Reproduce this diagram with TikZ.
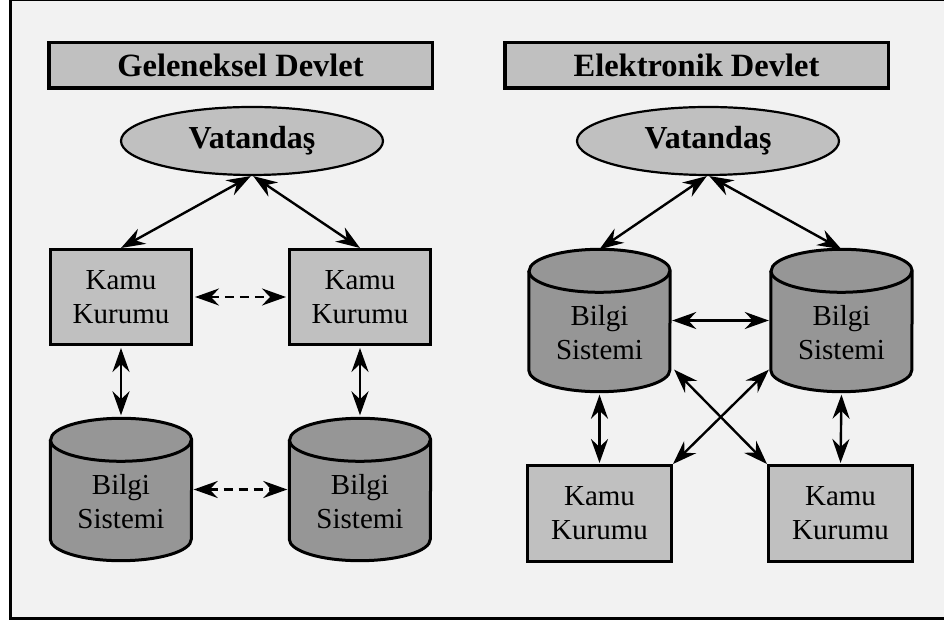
\documentclass[tikz,border=0pt]{standalone}
\usepackage{fontspec}
\setmainfont{Liberation Serif}
\usetikzlibrary{arrows.meta,shapes.geometric,calc,backgrounds}
\pgfdeclarelayer{frame}
\pgfsetlayers{frame,background,main}

\definecolor{pagebg}{HTML}{F2F2F2}
\definecolor{boxgray}{HTML}{C0C0C0}
\definecolor{cylgray}{HTML}{969696}

\tikzset{
  titlebox/.style={draw=black, line width=3.5pt, fill=boxgray, minimum width=383.5pt,
    minimum height=45.5pt, inner sep=0pt, font=\fontsize{32.5}{36}\selectfont\bfseries},
  citizen/.style={ellipse, draw=black, line width=2.2pt, fill=boxgray, minimum width=262pt,
    minimum height=68pt, inner sep=0pt, font=\fontsize{32}{36}\selectfont\bfseries},
  agency/.style={draw=black, line width=3pt, fill=boxgray, minimum width=141pt,
    minimum height=95pt, inner sep=0pt, align=center, font=\fontsize{29}{34}\selectfont},
  dbslot/.style={rectangle, draw=none, minimum width=141pt, minimum height=142pt, inner sep=0pt},
  dblabel/.style={align=center, inner sep=0pt, font=\fontsize{29}{34}\selectfont},
  dbbody/.style={draw=black, line width=3pt, fill=cylgray, line join=round},
  tip/.style={Stealth[length=24pt,width=17pt,inset=8pt]},
  link/.style={line width=2.4pt, {Stealth[length=24pt,width=17pt,inset=8pt]}-{Stealth[length=24pt,width=17pt,inset=8pt]}},
  weaklink/.style={link, dash pattern=on 9pt off 6pt}
}

\begin{document}
\begin{tikzpicture}[x=1pt,y=1pt]
\useasboundingbox (0,0) rectangle (944,623);

% page and outer frame
\begin{pgfonlayer}{frame}
  \fill[white] (0,0) rectangle (944,623);
  \draw[line width=3pt, fill=pagebg] (10,4.5) rectangle (960,623.5);
\end{pgfonlayer}

% ---------- Geleneksel Devlet ----------
\node[titlebox] (tL) at (240.5,557.5) {Geleneksel Devlet};
\node[citizen] (vL) at (252,482) {Vatandaş};
\node[agency] (kL1) at (121,326) {Kamu\\Kurumu};
\node[agency] (kL2) at (360,326) {Kamu\\Kurumu};
\node[dbslot] (cL1) at (121,133.5) {};
\node[dbslot] (cL2) at (360,133.5) {};
\node[dblabel] at ($(cL1.center)+(0,-12)$) {Bilgi\\Sistemi};
\node[dblabel] at ($(cL2.center)+(0,-12)$) {Bilgi\\Sistemi};

% ---------- Elektronik Devlet ----------
\node[titlebox] (tR) at (696.5,557.5) {Elektronik Devlet};
\node[citizen] (vR) at (708,482) {Vatandaş};
\node[dbslot] (cR1) at (599.5,302.5) {};
\node[dbslot] (cR2) at (841.5,302.5) {};
\node[dblabel] at ($(cR1.center)+(0,-12)$) {Bilgi\\Sistemi};
\node[dblabel] at ($(cR2.center)+(0,-12)$) {Bilgi\\Sistemi};
\node[agency, minimum width=144pt, minimum height=96pt] (kR1) at (599.5,109.5) {Kamu\\Kurumu};
\node[agency, minimum width=144pt, minimum height=96pt] (kR2) at (840.5,109.5) {Kamu\\Kurumu};

% cylinder bodies behind their labels
\begin{scope}[on background layer]
  \foreach \n in {cL1,cL2,cR1,cR2}{
    \draw[dbbody] ($(\n.north west)+(0,-21.5)$) -- ($(\n.south west)+(0,21.5)$)
      arc[start angle=180,end angle=360,x radius=70.5,y radius=21.5]
      -- ($(\n.north east)+(0,-21.5)$)
      arc[start angle=0,end angle=180,x radius=70.5,y radius=21.5] -- cycle;
    \draw[line width=3pt] ($(\n.north west)+(0,-21.5)$)
      arc[start angle=180,end angle=360,x radius=70.5,y radius=21.5];
  }
\end{scope}

% connectors, traditional
\draw[link] (vL.268) -- (kL1.north);
\draw[link] (vL.272) -- (kL2.north);
\draw[weaklink, shorten <=2pt, shorten >=2pt] (kL1.east) -- (kL2.west);
\draw[weaklink, shorten <=2pt, shorten >=2pt] (cL1.east) -- (cL2.west);
\draw[link, shorten <=2pt, shorten >=3pt] (kL1.south) -- (cL1.north);
\draw[link, shorten <=2pt, shorten >=3pt] (kL2.south) -- (cL2.north);

% connectors, electronic
\draw[link] (vR.268) -- (cR1.north);
\draw[link] (vR.272) -- (cR2.north);
\draw[link, shorten <=2pt, shorten >=2pt] (cR1.east) -- (cR2.west);
\draw[link, shorten <=3pt, shorten >=1pt] (cR1.south) -- (kR1.north);
\draw[link, shorten <=3pt, shorten >=1pt] (cR2.south) -- (kR2.north);
\draw[link] ($(cR1.south east)+(4,22)$) -- (kR2.north west);
\draw[link] ($(cR2.south west)+(-2,22)$) -- (kR1.north east);
\end{tikzpicture}
\end{document}
